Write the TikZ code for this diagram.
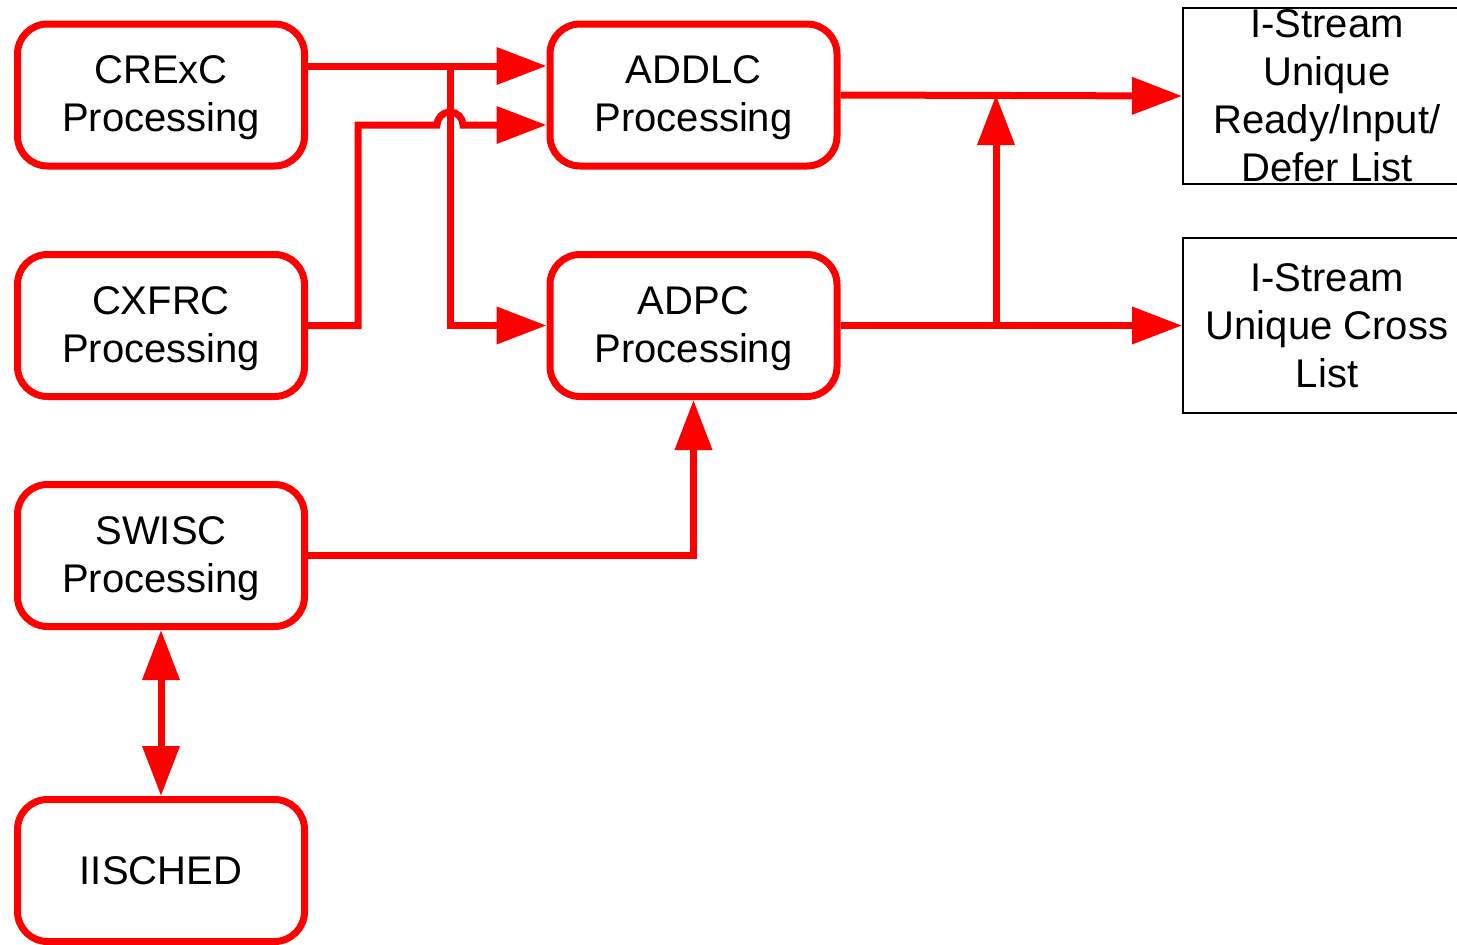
\documentclass[tikz,border=0pt]{standalone}
\usepackage{fontspec}
\setmainfont{Liberation Sans}
\usetikzlibrary{arrows.meta,calc}

\definecolor{flowred}{RGB}{255,0,0}

\tikzset{
  procbox/.style={draw=flowred, line width=7pt, rounded corners=30pt,
    minimum width=287pt, minimum height=142pt, align=center,
    inner sep=0pt, text depth=2pt, font=\fontsize{40}{48}\selectfont},
  listbox/.style={draw=black, line width=2pt, minimum width=288pt,
    align=center, inner sep=0pt, font=\fontsize{40}{48}\selectfont},
  flow/.style={draw=flowred, line width=7pt},
  tip/.style={-{Triangle[length=50pt,width=36pt]}},
  bothtips/.style={{Triangle[length=50pt,width=36pt]}-{Triangle[length=50pt,width=36pt]}}
}

\begin{document}
\begin{tikzpicture}[x=1pt, y=-1pt]
  \clip (0,0) rectangle (1457,945);
  \fill[white] (0,0) rectangle (1457,945);

  % processing blocks
  \node[procbox] (crexc)   at (161,95)    {CRExC\\Processing};
  \node[procbox] (cxfrc)   at (161,325.5) {CXFRC\\Processing};
  \node[procbox] (swisc)   at (161,555.5) {SWISC\\Processing};
  \node[procbox, text depth=0pt] (iisched) at (161,870.5) {IISCHED};
  \node[procbox] (addlc)   at (693.5,95)    {ADDLC\\Processing};
  \node[procbox] (adpc)    at (693.5,325.5) {ADPC\\Processing};

  % output lists
  \node[listbox, minimum height=176pt] (readylist) at (1327,96)
    {I-Stream\\Unique\\Ready/Input/\\Defer List};
  \node[listbox, minimum height=175pt] (crosslist) at (1327,325.5)
    {I-Stream\\Unique Cross\\List};

  % junction points
  \coordinate (split) at (450,66);
  \coordinate (bend)  at (358,125);
  \coordinate (merge) at (996,325.5);

  % CRExC feeds both ADDLC and ADPC
  \draw[flow, tip] ($(crexc.east)+(0,-29)$) -- ($(addlc.west)+(0,-29)$);
  \draw[flow, tip] (split) |- (adpc.west);

  % CXFRC into ADDLC, hopping over the CRExC branch
  \draw[flow, tip] (cxfrc.east) -| (bend) -- (437,125)
    arc[start angle=180, end angle=360, radius=13] -- ($(addlc.west)+(0,30)$);

  % SWISC into ADPC
  \draw[flow, tip] (swisc.east) -| (adpc.south);

  % SWISC <-> IISCHED
  \draw[flow, bothtips] (swisc.south) -- (iisched.north);

  % ADDLC / ADPC outputs
  \draw[flow, tip] (addlc.east) -- (readylist.west);
  \draw[flow, tip] (adpc.east) -- (crosslist.west);
  \draw[flow, tip] (merge) -- (merge |- addlc.east);
\end{tikzpicture}
\end{document}
